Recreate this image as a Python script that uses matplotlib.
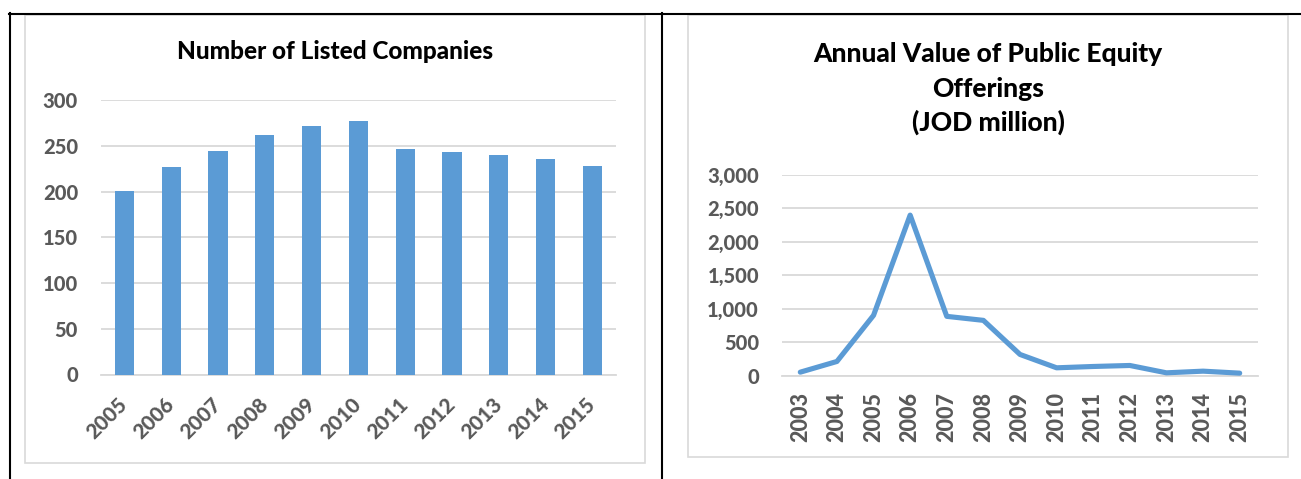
import matplotlib
matplotlib.use("Agg")
import matplotlib.pyplot as plt
from matplotlib.patches import Rectangle
from matplotlib.lines import Line2D
from matplotlib.ticker import FuncFormatter, MultipleLocator

# Number of listed companies per year
company_years = ['2005', '2006', '2007', '2008', '2009', '2010',
                 '2011', '2012', '2013', '2014', '2015']
listed_companies = [201, 227, 245, 262, 272, 277, 247, 243, 240, 236, 228]

# Annual value of public equity offerings (JOD million)
offering_years = ['2003', '2004', '2005', '2006', '2007', '2008', '2009',
                  '2010', '2011', '2012', '2013', '2014', '2015']
offering_values = [50, 210, 900, 2400, 885, 825, 315, 115, 135, 150, 40, 65, 35]

left_title = 'Number of Listed Companies'
right_title = ['Annual Value of Public Equity', 'Offerings', '(JOD million)']

plt.rcParams['font.family'] = ['Lato', 'DejaVu Sans']
plt.rcParams['font.weight'] = 'black'

W, H = 1301, 479
BLUE = '#5B9BD5'
GRID = '#D9D9D9'
TICK = '#595959'

fig = plt.figure(figsize=(W / 100, H / 100), dpi=100)


def px_box(x0, y0, x1, y1):
    """Axes rectangle from pixel edges measured from the top-left corner."""
    return [x0 / W, 1 - y1 / H, (x1 - x0) / W, (y1 - y0) / H]


# Page layer: table rules, chart frames and titles in pixel coordinates
page = fig.add_axes([0, 0, 1, 1], zorder=0)
page.set_xlim(0, W)
page.set_ylim(H, 0)
page.axis('off')

for xs, ys in [((8.5, W), (14, 14)), ((9.5, 9.5), (13, H)), ((661.7, 661.7), (13, H))]:
    page.add_line(Line2D(xs, ys, color='black', lw=1.5))

page.add_patch(Rectangle((25, 15), 620, 447.5, fill=False, ec=GRID, lw=1.2))
page.add_patch(Rectangle((688, 15), 600, 442, fill=False, ec=GRID, lw=1.2))

page.text(335, 59.3, left_title, ha='center', va='baseline',
          fontsize=17.5, fontweight='black', color='black')
for line, base in zip(right_title, [62.3, 96.5, 131.0]):
    page.text(988, base, line, ha='center', va='baseline',
              fontsize=19, fontweight='black', color='black')


def style_axes(ax):
    ax.set_facecolor('none')
    for side in ['top', 'right', 'left']:
        ax.spines[side].set_visible(False)
    ax.spines['bottom'].set_color(GRID)
    ax.spines['bottom'].set_linewidth(1.3)
    ax.grid(axis='y', color=GRID, lw=1.3)
    ax.set_axisbelow(True)
    ax.tick_params(length=0, labelcolor=TICK, labelsize=14.5)


# Bar chart: listed companies
ax1 = fig.add_axes(px_box(101, 100.3, 615.7, 374.5), zorder=1)
x1 = list(range(len(company_years)))
ax1.bar(x1, listed_companies, width=0.41, color=BLUE, zorder=3)
ax1.set_xlim(-0.5, len(x1) - 0.5)
ax1.set_ylim(0, 300)
ax1.yaxis.set_major_locator(MultipleLocator(50))
ax1.set_xticks(x1)
ax1.set_xticklabels(company_years, rotation=45, ha='right', va='center',
                    rotation_mode='anchor')
style_axes(ax1)
ax1.tick_params(axis='y', pad=16.5)
ax1.tick_params(axis='x', pad=19, labelsize=15)

# Line chart: equity offerings
ax2 = fig.add_axes(px_box(782, 175, 1258, 375.5), zorder=1)
x2 = list(range(len(offering_years)))
ax2.plot(x2, offering_values, color=BLUE, lw=3.7, solid_capstyle='round',
         solid_joinstyle='round', clip_on=False, zorder=3)
ax2.set_xlim(-0.5, len(x2) - 0.5)
ax2.set_ylim(0, 3000)
ax2.yaxis.set_major_locator(MultipleLocator(500))
ax2.yaxis.set_major_formatter(FuncFormatter(lambda v, _: f'{v:,.0f}'))
ax2.set_xticks(x2)
ax2.set_xticklabels(offering_years, rotation=90, ha='center', va='top')
style_axes(ax2)
ax2.tick_params(axis='y', pad=16.5)
ax2.tick_params(axis='x', pad=12, labelsize=15.5)

fig.savefig('out.png', dpi=100, facecolor='white')
